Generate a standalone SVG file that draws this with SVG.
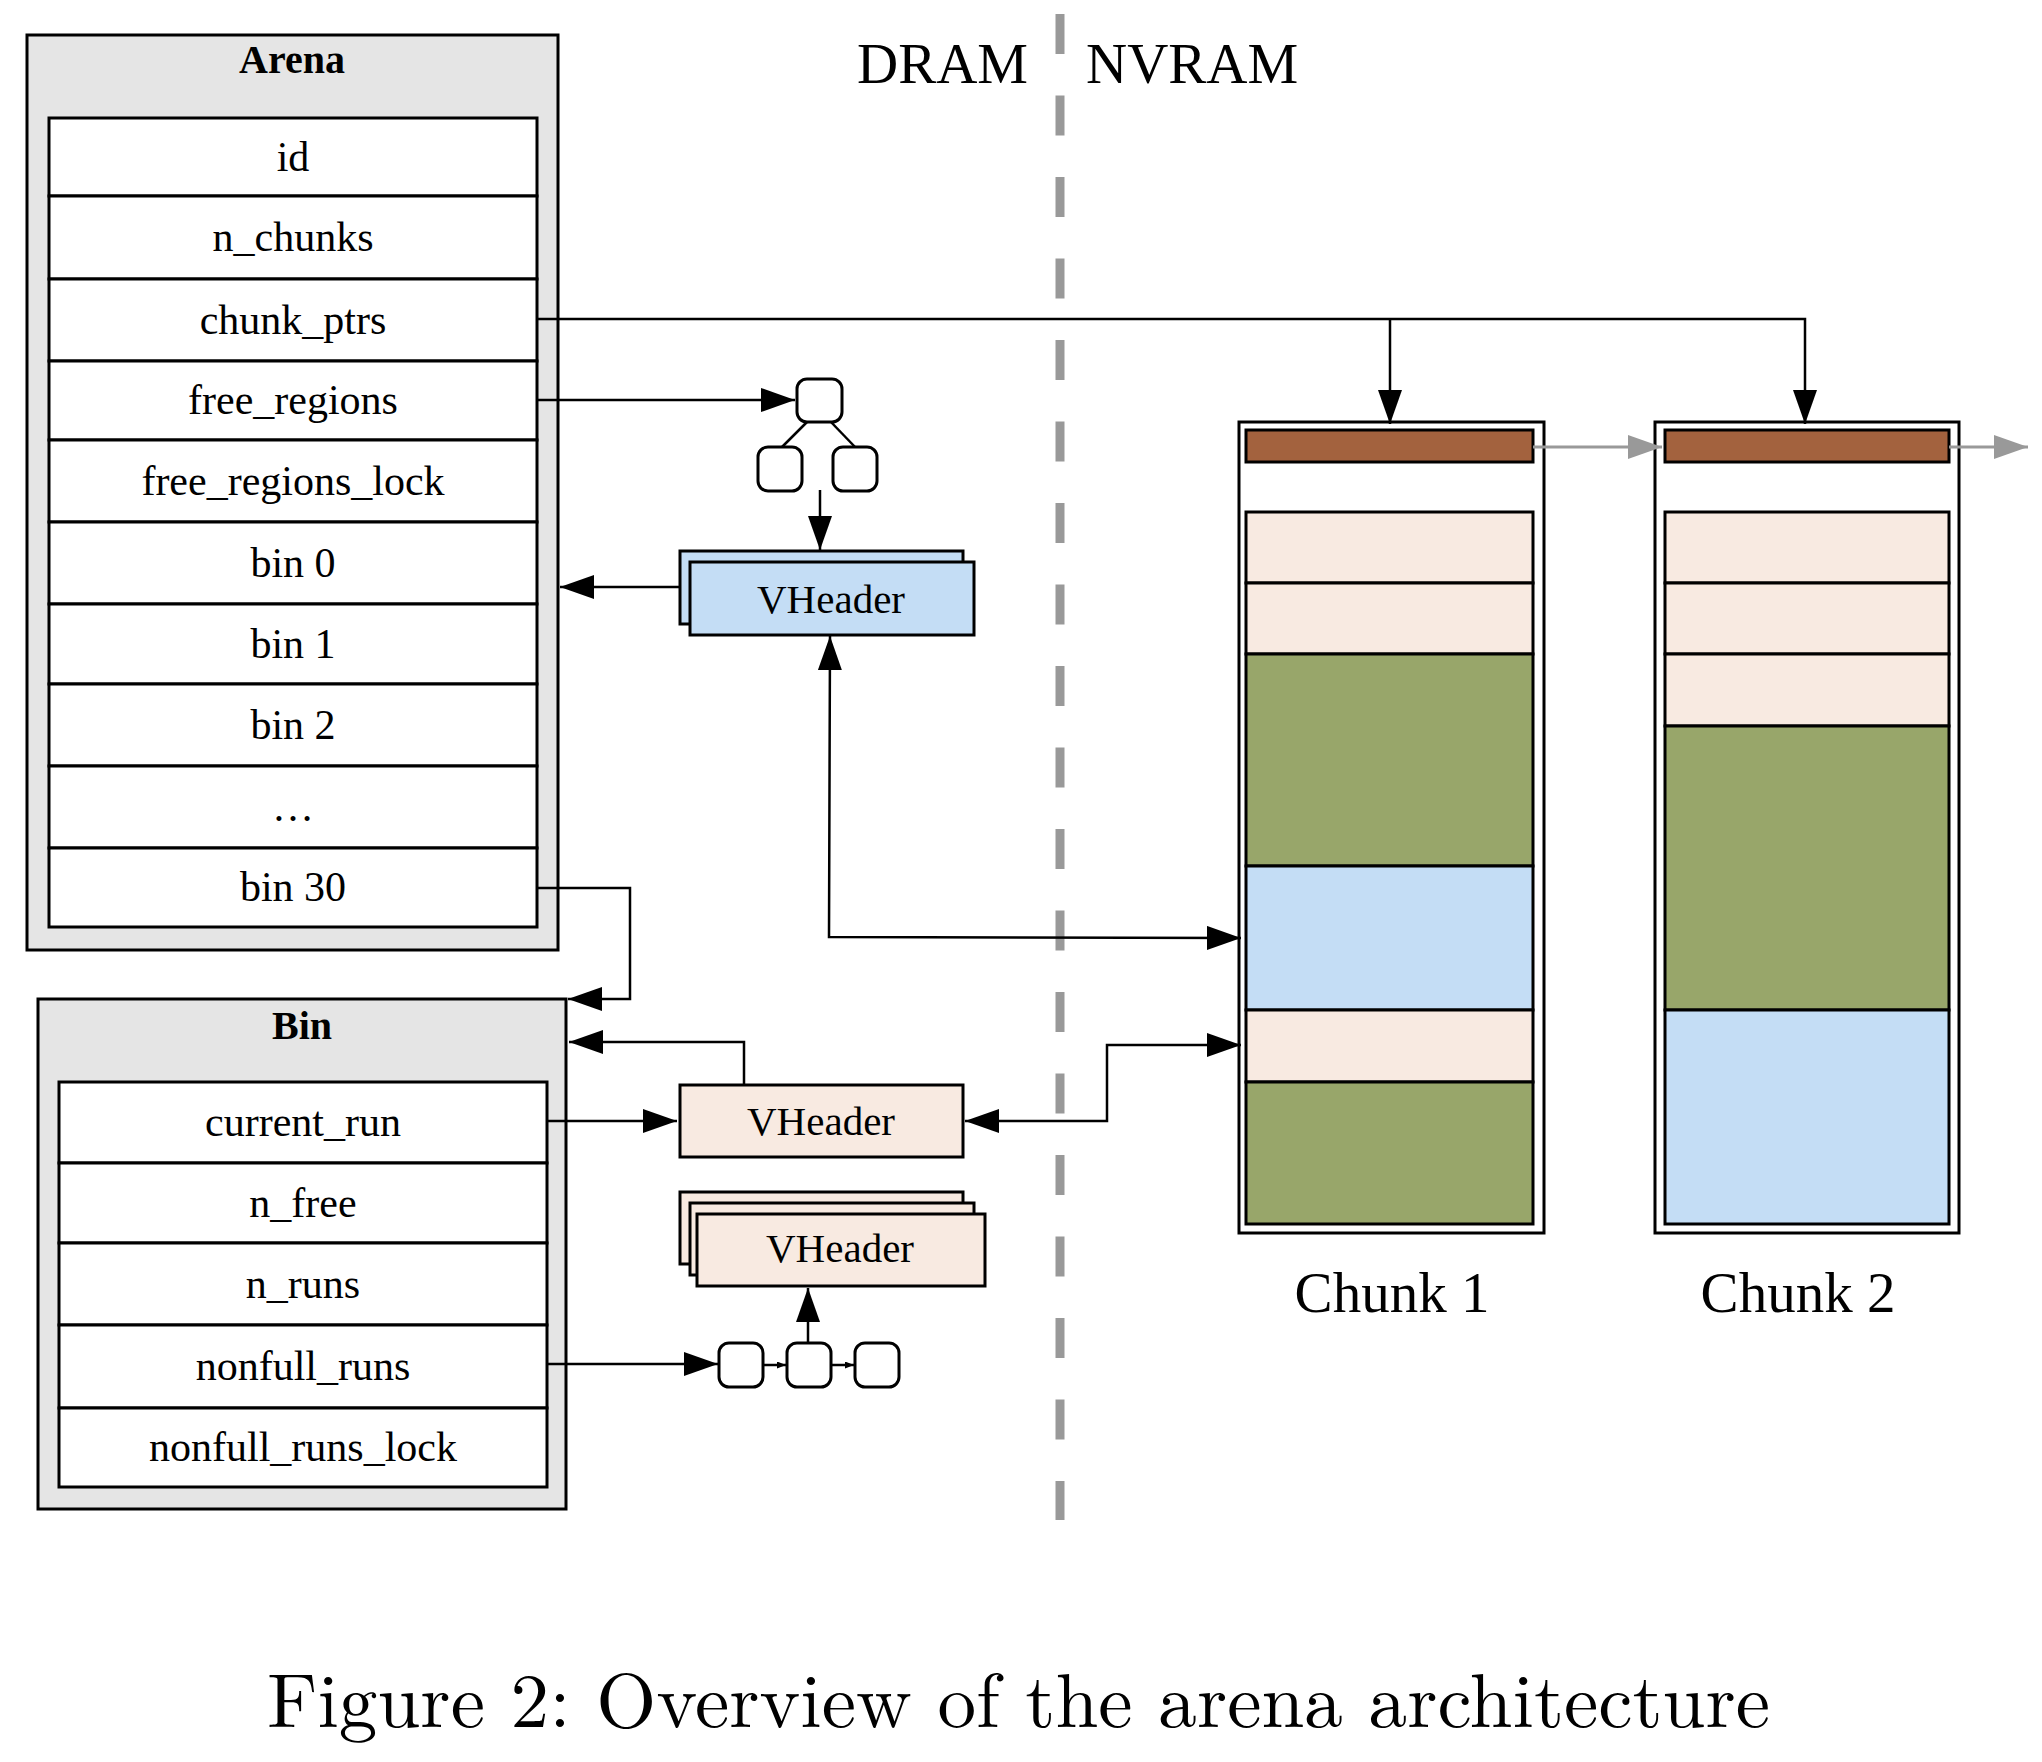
<svg xmlns="http://www.w3.org/2000/svg" width="2042" height="1762" viewBox="0 0 2042 1762">
<style>
  .frame{fill:#E5E5E5;stroke:#000;stroke-width:3}
  .field{fill:#fff;stroke:#000;stroke-width:3}
  .ft{font-family:"Liberation Serif","Times New Roman",serif;font-size:42px;text-anchor:middle;fill:#000}
  .title{font-family:"Liberation Serif","Times New Roman",serif;font-size:40px;font-weight:bold;text-anchor:middle;fill:#000}
  .vh{font-family:"Liberation Serif","Times New Roman",serif;font-size:41px;text-anchor:middle;fill:#000}
  .big{font-family:"Liberation Serif","Times New Roman",serif;font-size:57px;fill:#000}
  .blue{fill:#C4DDF5;stroke:#000;stroke-width:3}
  .pink{fill:#F8EAE1;stroke:#000;stroke-width:3}
  .green{fill:#98A66A;stroke:#000;stroke-width:3}
  .brown{fill:#A3623E;stroke:#000;stroke-width:3}
  .node{fill:#fff;stroke:#000;stroke-width:3}
  .conn{fill:none;stroke:#000;stroke-width:2.5}
  .gconn{fill:none;stroke:#999;stroke-width:3}
</style>
<defs>
  <marker id="ah" markerUnits="userSpaceOnUse" markerWidth="36" markerHeight="26" refX="34" refY="12" orient="auto-start-reverse">
    <path d="M0,0 L34,12 L0,24 z" fill="#000"/>
  </marker>
  <marker id="gah" markerUnits="userSpaceOnUse" markerWidth="36" markerHeight="26" refX="34" refY="12" orient="auto">
    <path d="M0,0 L34,12 L0,24 z" fill="#999"/>
  </marker>
  <marker id="sah" markerUnits="userSpaceOnUse" markerWidth="10" markerHeight="8" refX="9" refY="3.5" orient="auto">
    <path d="M0,0 L9,3.5 L0,7 z" fill="#000"/>
  </marker>
</defs>
<rect width="2042" height="1762" fill="#fff"/>

<!-- DRAM / NVRAM divider -->
<g id="divider">
  <line x1="1060" y1="14" x2="1060" y2="1520" stroke="#999" stroke-width="9" stroke-dasharray="40 41.5"/>
  <text class="big" x="857" y="83">DRAM</text>
  <text class="big" x="1086" y="83">NVRAM</text>
</g>

<!-- Arena -->
<g id="arena">
  <rect class="frame" x="27" y="35" width="531" height="915"/>
  <text class="title" x="292" y="73">Arena</text>
  <rect class="field" x="49" y="118" width="488" height="78"/>
  <rect class="field" x="49" y="196" width="488" height="83"/>
  <rect class="field" x="49" y="279" width="488" height="82"/>
  <rect class="field" x="49" y="361" width="488" height="79"/>
  <rect class="field" x="49" y="440" width="488" height="82"/>
  <rect class="field" x="49" y="522" width="488" height="82"/>
  <rect class="field" x="49" y="604" width="488" height="80"/>
  <rect class="field" x="49" y="684" width="488" height="82"/>
  <rect class="field" x="49" y="766" width="488" height="82"/>
  <rect class="field" x="49" y="848" width="488" height="79"/>
  <text class="ft" x="293" y="171">id</text>
  <text class="ft" x="293" y="251">n_chunks</text>
  <text class="ft" x="293" y="334">chunk_ptrs</text>
  <text class="ft" x="293" y="414">free_regions</text>
  <text class="ft" x="293" y="495">free_regions_lock</text>
  <text class="ft" x="293" y="577">bin 0</text>
  <text class="ft" x="293" y="658">bin 1</text>
  <text class="ft" x="293" y="739">bin 2</text>
  <text class="ft" x="293" y="821">…</text>
  <text class="ft" x="293" y="901">bin 30</text>
</g>

<!-- Bin -->
<g id="bin">
  <rect class="frame" x="38" y="999" width="528" height="510"/>
  <text class="title" x="302" y="1039">Bin</text>
  <rect class="field" x="59" y="1082" width="488" height="81"/>
  <rect class="field" x="59" y="1163" width="488" height="80"/>
  <rect class="field" x="59" y="1243" width="488" height="82"/>
  <rect class="field" x="59" y="1325" width="488" height="83"/>
  <rect class="field" x="59" y="1408" width="488" height="79"/>
  <text class="ft" x="303" y="1136">current_run</text>
  <text class="ft" x="303" y="1217">n_free</text>
  <text class="ft" x="303" y="1298">n_runs</text>
  <text class="ft" x="303" y="1380">nonfull_runs</text>
  <text class="ft" x="303" y="1461">nonfull_runs_lock</text>
</g>

<!-- free region tree -->
<g id="tree">
  <line x1="808" y1="421" x2="781" y2="448" stroke="#000" stroke-width="2.5"/>
  <line x1="830" y1="421" x2="856" y2="448" stroke="#000" stroke-width="2.5"/>
  <rect class="node" x="797" y="379" width="45" height="43" rx="10"/>
  <rect class="node" x="758" y="447" width="44" height="44" rx="10"/>
  <rect class="node" x="833" y="447" width="44" height="44" rx="10"/>
</g>

<!-- VHeader blue (stacked 2) -->
<g id="vheader-blue">
  <rect class="blue" x="680" y="551" width="283" height="73"/>
  <rect class="blue" x="690" y="562" width="284" height="73"/>
  <text class="vh" x="831" y="613">VHeader</text>
</g>

<!-- VHeader pink current run -->
<g id="vheader-current">
  <rect class="pink" x="680" y="1085" width="283" height="72"/>
  <text class="vh" x="821" y="1135">VHeader</text>
</g>

<!-- VHeader pink stacked 3 -->
<g id="vheader-stack">
  <rect class="pink" x="680" y="1192" width="283" height="72"/>
  <rect class="pink" x="690" y="1203" width="284" height="72"/>
  <rect class="pink" x="697" y="1214" width="288" height="72"/>
  <text class="vh" x="840" y="1262">VHeader</text>
</g>

<!-- nonfull runs list -->
<g id="runlist">
  <rect class="node" x="719" y="1343" width="44" height="44" rx="10"/>
  <rect class="node" x="787" y="1343" width="44" height="44" rx="10"/>
  <rect class="node" x="855" y="1343" width="44" height="44" rx="10"/>
</g>

<!-- Chunk 1 -->
<g id="chunk1">
  <rect x="1239" y="422" width="305" height="811" fill="#fff" stroke="#000" stroke-width="3"/>
  <rect class="brown" x="1246" y="430" width="287" height="32"/>
  <rect class="pink" x="1246" y="512" width="287" height="71"/>
  <rect class="pink" x="1246" y="583" width="287" height="71"/>
  <rect class="green" x="1246" y="654" width="287" height="212"/>
  <rect class="blue" x="1246" y="866" width="287" height="144"/>
  <rect class="pink" x="1246" y="1010" width="287" height="72"/>
  <rect class="green" x="1246" y="1082" width="287" height="142"/>
  <text class="big" x="1392" y="1312" text-anchor="middle" font-size="56">Chunk 1</text>
</g>

<!-- Chunk 2 -->
<g id="chunk2">
  <rect x="1655" y="422" width="304" height="811" fill="#fff" stroke="#000" stroke-width="3"/>
  <rect class="brown" x="1665" y="430" width="284" height="32"/>
  <rect class="pink" x="1665" y="512" width="284" height="71"/>
  <rect class="pink" x="1665" y="583" width="284" height="71"/>
  <rect class="pink" x="1665" y="654" width="284" height="72"/>
  <rect class="green" x="1665" y="726" width="284" height="284"/>
  <rect class="blue" x="1665" y="1010" width="284" height="214"/>
  <text class="big" x="1798" y="1312" text-anchor="middle" font-size="56">Chunk 2</text>
</g>

<!-- connectors -->
<g id="connectors">
  <path class="conn" d="M537,319 H1805 V424" marker-end="url(#ah)"/>
  <path class="conn" d="M1390,319 V424" marker-end="url(#ah)"/>
  <path class="conn" d="M537,400 H795" marker-end="url(#ah)"/>
  <path class="conn" d="M820,490 V550" marker-end="url(#ah)"/>
  <path class="conn" d="M680,587 H560" marker-end="url(#ah)"/>
  <path class="conn" d="M830,636 L829,937 L1241,938" marker-start="url(#ah)" marker-end="url(#ah)"/>
  <path class="conn" d="M537,888 H630 V999 H568" marker-end="url(#ah)"/>
  <path class="conn" d="M744,1085 V1042 H569" marker-end="url(#ah)"/>
  <path class="conn" d="M547,1121 H677" marker-end="url(#ah)"/>
  <path class="conn" d="M965,1121 H1107 V1045 H1241" marker-start="url(#ah)" marker-end="url(#ah)"/>
  <path class="conn" d="M547,1364 H718" marker-end="url(#ah)"/>
  <path class="conn" d="M808,1343 V1288" marker-end="url(#ah)"/>
  <path class="conn" d="M763,1365 H786" marker-end="url(#sah)"/>
  <path class="conn" d="M831,1365 H854" marker-end="url(#sah)"/>
  <path class="gconn" d="M1533,447 H1662" marker-end="url(#gah)"/>
  <path class="gconn" d="M1949,447 H2028" marker-end="url(#gah)"/>
</g>

<text x="267" y="1727" font-family="'Latin Modern Roman','CMU Serif','Liberation Serif',serif" font-size="76" textLength="1503" lengthAdjust="spacingAndGlyphs" fill="#000">Figure 2: Overview of the arena architecture</text>
</svg>
